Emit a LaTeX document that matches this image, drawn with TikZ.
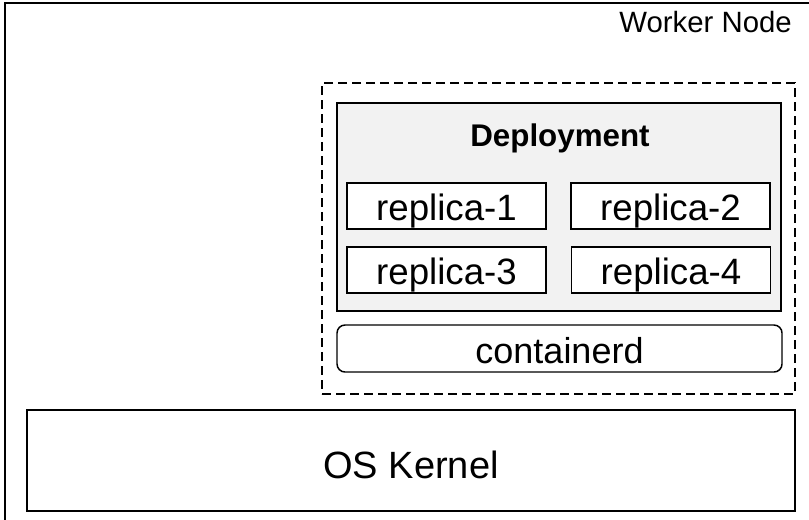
\documentclass[tikz,border=0pt]{standalone}
\usepackage{fontspec}
\setmainfont{Liberation Sans}
\begin{document}
\begin{tikzpicture}[x=0.75pt,y=-0.75pt,
  box/.style={draw=black, line width=1.1pt, inner sep=0pt, align=center},
  replica/.style={box, fill=white, minimum width=149.25pt, minimum height=34.5pt, text height=21pt, text depth=0pt, font=\fontsize{27.5}{32}\selectfont},
  deploybox/.style={box, fill=black!5, minimum width=333pt, minimum height=156pt},
  runtime/.style={box, rounded corners=6pt, fill=white, minimum width=333.75pt, minimum height=35.25pt, text height=21.75pt, text depth=0pt, font=\fontsize{27}{32}\selectfont},
  hostbox/.style={draw=black, line width=1.1pt, dash pattern=on 6.5pt off 4pt, minimum width=354.75pt, minimum height=233.25pt, inner sep=0pt},
  kernelbox/.style={box, fill=white, minimum width=576pt, minimum height=75.75pt, text height=27pt, text depth=0pt, font=\fontsize{28.5}{33}\selectfont},
  label/.style={inner sep=0pt}]
  \useasboundingbox (0,0) rectangle (809,519);
  \clip (0,0) rectangle (809,519);
  % worker node frame (runs past the page on the right and bottom)
  \node[box, minimum width=618.75pt, minimum height=402.75pt] (worker) at (417.5,271.5) {};
  \node[label, anchor=base east, font=\fontsize{22}{26}\selectfont] (workerlabel) at (792,32) {Worker Node};
  % container host area
  \node[hostbox] (host) at (558.5,238.5) {};
  \node[deploybox] (deploy) at (559,207) {};
  \node[label, anchor=base, font=\bfseries\fontsize{23.5}{28}\selectfont] (deploylabel) at (560,146) {Deployment};
  \node[replica] (r1) at (446.5,206) {replica-1};
  \node[replica] (r2) at (670.5,206) {replica-2};
  \node[replica] (r3) at (446.5,270) {replica-3};
  \node[replica] (r4) at (671,270) {replica-4};
  \node[runtime] (containerd) at (559.5,348.5) {containerd};
  % kernel
  \node[kernelbox] (kernel) at (411,460.5) {OS Kernel};
\end{tikzpicture}
\end{document}
